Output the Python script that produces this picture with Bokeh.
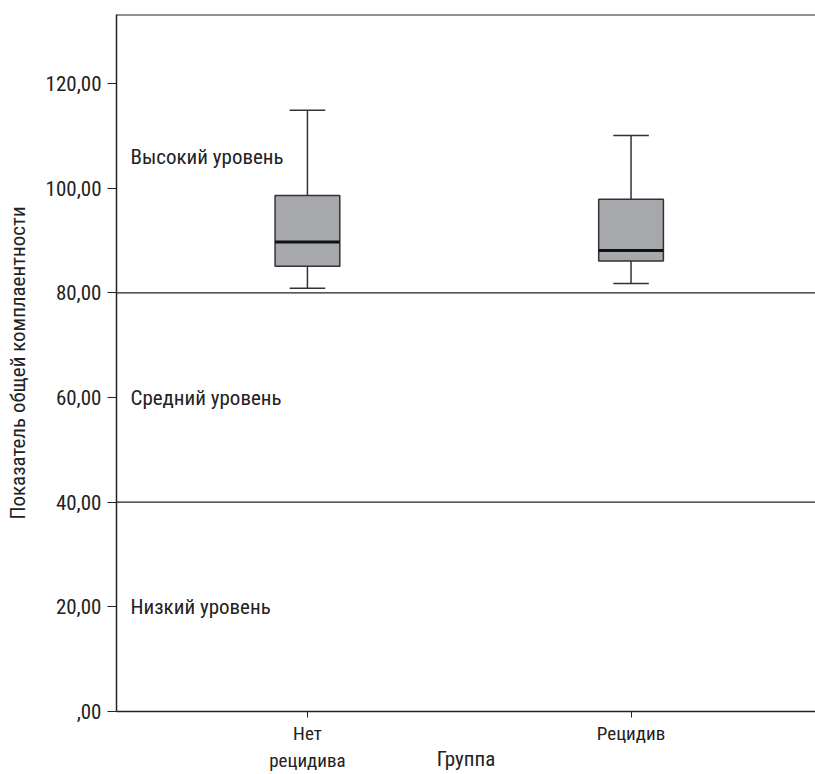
from bokeh.plotting import figure
from bokeh.models import Range1d, FixedTicker, Span
from bokeh.core.properties import value
from bokeh.embed import file_html
from bokeh.resources import INLINE

# ---- data ----
groups = ["Нет\nрецидива", "Рецидив"]
whisker_low = [80.9, 81.8]
q1 = [85.1, 86.1]
median = [89.7, 88.1]
q3 = [98.6, 97.9]
whisker_high = [114.9, 110.1]

y_ticks = [0, 20, 40, 60, 80, 100, 120]
y_tick_labels = [",00", "20,00", "40,00", "60,00", "80,00", "100,00", "120,00"]
level_bounds = [40, 80]
level_names = ["Низкий уровень", "Средний уровень", "Высокий уровень"]
level_label_y = [20, 60, 106]
y_max = 133.2

FONT = "Liberation Sans Narrow, Roboto Condensed, DejaVu Sans Condensed, sans-serif"
TXT = "#222222"
FS = "21px"

xs = [i + 1 for i in range(len(groups))]
x_start, x_end = 0.41, 2.57

p = figure(width=815, height=774, output_backend="svg", toolbar_location=None,
           x_range=Range1d(x_start, x_end), y_range=Range1d(0, y_max),
           min_border_left=116, min_border_right=0, min_border_top=14, min_border_bottom=10)
p.outline_line_color = None
p.grid.visible = False
p.background_fill_color = "white"

box_w = 0.2
cap_w = 0.11

# whiskers
p.segment(x0=xs, x1=xs, y0=q3, y1=whisker_high, line_color="#333333", line_width=1.5)
p.segment(x0=xs, x1=xs, y0=whisker_low, y1=q1, line_color="#333333", line_width=1.5)
p.segment(x0=[x - cap_w / 2 for x in xs], x1=[x + cap_w / 2 for x in xs],
          y0=whisker_high, y1=whisker_high, line_color="#333333", line_width=1.5)
p.segment(x0=[x - cap_w / 2 for x in xs], x1=[x + cap_w / 2 for x in xs],
          y0=whisker_low, y1=whisker_low, line_color="#333333", line_width=1.5)
# boxes
p.vbar(x=xs, width=box_w, bottom=q1, top=q3, fill_color="#a7a8ac",
       line_color="#333333", line_width=1.5)
# medians
p.segment(x0=[x - box_w / 2 for x in xs], x1=[x + box_w / 2 for x in xs],
          y0=median, y1=median, line_color="#111111", line_width=3)

# level boundaries
for b in level_bounds:
    p.add_layout(Span(location=b, dimension="width", line_color="#222222", line_width=1.3))
p.add_layout(Span(location=y_max, dimension="width", line_color="#222222", line_width=2))

# level labels
p.text(x=[x_start] * len(level_names), y=level_label_y, text=level_names,
       x_offset=14, text_baseline="middle", text_align="left",
       text_font=value(FONT), text_font_size=FS, text_color=TXT)

# axes
p.yaxis.ticker = FixedTicker(ticks=y_ticks)
p.yaxis.major_label_overrides = dict(zip(y_ticks, y_tick_labels))
p.yaxis.minor_tick_line_color = None
p.yaxis.major_tick_out = 9
p.yaxis.major_tick_in = 0
p.yaxis.major_label_standoff = 6
p.yaxis.axis_label = "Показатель общей комплаентности"
p.yaxis.axis_label_standoff = 13
p.yaxis.axis_label_text_font_style = "normal"

p.xaxis.ticker = FixedTicker(ticks=xs)
p.xaxis.major_label_overrides = dict(zip(xs, groups))
p.xaxis.minor_tick_line_color = None
p.xaxis.major_tick_out = 6
p.xaxis.major_tick_in = 0
p.xaxis.major_label_standoff = 4
p.xaxis.axis_label = "Группа"
p.xaxis.axis_label_standoff = -28
p.xaxis.axis_label_text_font_style = "normal"

for ax in (p.xaxis, p.yaxis):
    ax.axis_line_color = "#222222"
    ax.axis_line_width = 1.5
    ax.major_tick_line_color = "#222222"
    ax.major_label_text_font = FONT
    ax.major_label_text_font_size = FS
    ax.major_label_text_color = TXT
    ax.axis_label_text_font = FONT
    ax.axis_label_text_font_size = FS
    ax.axis_label_text_color = TXT

p.xaxis.major_label_text_font_size = "19px"

open("out.html", "w").write(file_html(p, INLINE))
